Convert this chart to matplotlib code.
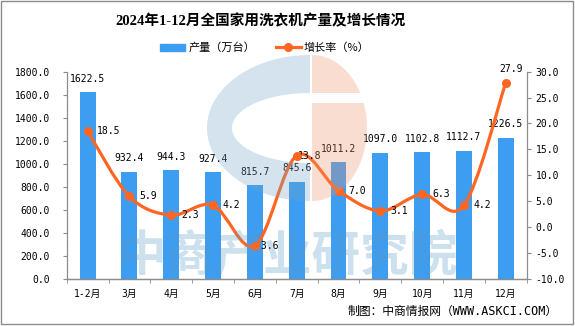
import numpy as np
import matplotlib
matplotlib.use("Agg")
import matplotlib.pyplot as plt
from matplotlib.path import Path
from matplotlib.patches import PathPatch, Patch, Polygon, Rectangle
from matplotlib.lines import Line2D
from matplotlib.ticker import FormatStrFormatter

# data
months = ["1-2月", "3月", "4月", "5月", "6月", "7月", "8月", "9月", "10月", "11月", "12月"]
output = [1622.5, 932.4, 944.3, 927.4, 815.7, 845.6, 1011.2, 1097.0, 1102.8, 1112.7, 1226.5]
growth = [18.5, 5.9, 2.3, 4.2, -3.6, 13.8, 7.0, 3.1, 6.3, 4.2, 27.9]

title = "2024年1-12月全国家用洗衣机产量及增长情况"
bar_name = "产量（万台）"
line_name = "增长率（%）"
source = "制图：中商情报网（WWW.ASKCI.COM）"

BLUE = "#3D9DF0"
ORANGE = "#FF6622"
GREY = "#8C8C8C"

plt.rcParams["font.family"] = ["DejaVu Sans Mono", "Noto Sans CJK SC"]
plt.rcParams["axes.unicode_minus"] = False

W, H = 575, 326
fig = plt.figure(figsize=(W / 100, H / 100), dpi=100)


def fp(x, y):
    # pixel (from top-left) -> figure fraction
    return x / W, 1 - y / H


ax = fig.add_axes([66.7 / W, 1 - 278.8 / H, 460 / W, (278.8 - 71.7) / H])
ax2 = ax.twinx()

x = np.arange(len(months))
ax.bar(x, output, width=0.38, color=BLUE, zorder=2)
ax.set_xlim(-0.5, len(months) - 0.5)
ax.set_ylim(0, 1800)
ax.set_yticks(np.arange(0, 1801, 200))
ax.yaxis.set_major_formatter(FormatStrFormatter("%.1f"))
ax.set_xticks(x, months)
ax.set_xticks(np.arange(-0.5, len(months)), minor=True)
ax.tick_params(axis="x", which="major", length=0, pad=7, labelsize=7)
ax.tick_params(axis="x", which="minor", length=3, color=GREY, direction="out")
ax.tick_params(axis="y", length=3, color=GREY, pad=9, labelsize=7)

for v, xi in zip(output, x):
    ax.annotate(f"{v:.1f}", (xi, v), xytext=(0, 6), textcoords="offset points",
                ha="center", va="bottom", fontsize=7)

ax2.set_ylim(-10, 30)
ax2.set_yticks(np.arange(-10, 31, 5))
ax2.yaxis.set_major_formatter(FormatStrFormatter("%.1f"))
ax2.tick_params(axis="y", length=3, color=GREY, pad=3.5, labelsize=7)

for a in (ax, ax2):
    a.spines["top"].set_visible(False)
    for s in ("left", "right", "bottom"):
        a.spines[s].set_color(GREY)
        a.spines[s].set_linewidth(0.9)
ax2.spines["left"].set_visible(False)
ax.spines["right"].set_visible(False)

# smooth curve through the growth points (Catmull-Rom as cubic Bezier)
pts = np.column_stack([x, growth]).astype(float)
verts = [pts[0]]
codes = [Path.MOVETO]
n = len(pts)
for i in range(n - 1):
    p0 = pts[max(i - 1, 0)]
    p1 = pts[i]
    p2 = pts[i + 1]
    p3 = pts[min(i + 2, n - 1)]
    verts += [p1 + (p2 - p0) / 6, p2 - (p3 - p1) / 6, p2]
    codes += [Path.CURVE4] * 3
ax2.add_patch(PathPatch(Path(verts, codes), fill=False, edgecolor=ORANGE,
                        linewidth=2.3, capstyle="round", zorder=3))
ax2.plot(x, growth, "o", color=ORANGE, markersize=5.5, zorder=4)

for i, (xi, g) in enumerate(zip(x, growth)):
    if i == n - 1:
        ax2.annotate(f"{g:.1f}", (xi, g), xytext=(4, 6), textcoords="offset points",
                     ha="center", va="bottom", fontsize=7)
    else:
        dx = 0.5 if i in (4, 5) else 7
        ax2.annotate(f"{g:.1f}", (xi, g), xytext=(dx, 0), textcoords="offset points",
                     ha="left", va="center", fontsize=7)

# title, legend, source
fig.text(*fp(261, 21), title, ha="center", va="center", fontsize=10.5,
         fontweight="bold", family=["Liberation Serif", "Noto Sans CJK SC"])
handles = [Patch(color=BLUE),
           Line2D([], [], color=ORANGE, linewidth=2.3, marker="o", markersize=5.5)]
fig.legend(handles, [bar_name, line_name], loc="center", bbox_to_anchor=fp(265, 48),
           ncol=2, frameon=False, handlelength=2.2, handletextpad=0.3,
           columnspacing=1.9, prop={"family": ["Noto Sans CJK SC"], "size": 8})
fig.text(*fp(558, 311), source, ha="right", va="center", fontsize=8.5)

# watermark logo and text (drawn on top, semi-transparent)
t = np.radians(np.linspace(90, 270, 80))
outer = [fp(310 + 103 * np.cos(a), 128 - 73 * np.sin(a)) for a in t]
inner = [fp(310 + 78 * np.cos(a), 128 - 35 * np.sin(a)) for a in t[::-1]]
fig.add_artist(Polygon(outer + inner, closed=True, transform=fig.transFigure,
                       facecolor="#73A5C6", edgecolor="none", alpha=0.3, zorder=5))
t_up = np.radians(np.linspace(np.degrees(np.arcsin(35 / 73)), 90, 40))
up = [fp(312 + 55 * np.cos(a), 128 - 73 * np.sin(a)) for a in t_up] + [fp(312, 93)]
t_lo = np.radians(np.linspace(-90, np.degrees(np.arcsin(25 / 73)), 60))
lo = [fp(312 + 55 * np.cos(a), 128 - 73 * np.sin(a)) for a in t_lo] + [fp(312, 103)]
for poly in (up, lo):
    fig.add_artist(Polygon(poly, closed=True, transform=fig.transFigure,
                           facecolor="#EE9169", edgecolor="none", alpha=0.3, zorder=5))
fig.text(*fp(288, 257), "中商产业研究院", ha="center", va="center", fontsize=35,
         fontweight="bold", color="#5A9BC6", alpha=0.3,
         family=["Noto Sans CJK SC"], zorder=5)

# outer frame
fig.add_artist(Rectangle(fp(0.5, 324), 572.5 / W, 323.5 / H, transform=fig.transFigure,
                         fill=False, edgecolor="#8C8C8C", linewidth=1.0, zorder=6))

fig.savefig("out.png", dpi=100)
